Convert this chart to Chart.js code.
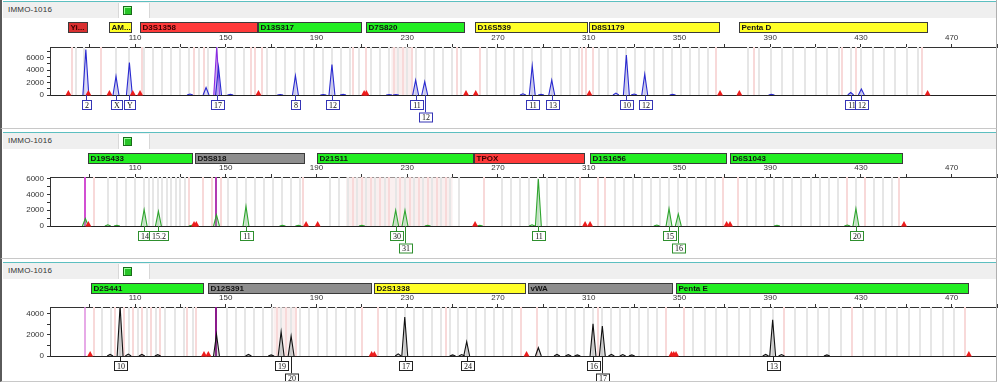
<!DOCTYPE html>
<html><head><meta charset="utf-8">
<script src="https://cdn.jsdelivr.net/npm/chart.js@4.4.1/dist/chart.umd.min.js"></script>
<style>
body{margin:0;background:#fff;width:1000px;height:382px;overflow:hidden;font-family:"Liberation Sans",Arial,sans-serif;position:relative}
.hdr{position:absolute;left:3px;width:994px;height:16px;background:#efefef;border-top:1px solid #5cbfc0;z-index:2}
.hdr span{position:absolute;left:5px;top:3px;font-size:8px;color:#333;letter-spacing:0.2px}
.iconbox{position:absolute;left:115px;top:1px;width:30px;height:15px;background:#fff;border-left:1px solid #d8d8d8;border-right:1px solid #d8d8d8}
.icon{position:absolute;left:4px;top:3px;width:7px;height:7px;background:#27c427;border:1px solid #1a6a1a;box-shadow:inset 1px 1px 0 #9f9}
canvas{position:absolute;left:0;z-index:1}
.frame{position:absolute;left:0;width:997px;border-left:2px solid #5a5a5a;border-right:1px solid #b0b0b0;border-bottom:1px solid #c8c8c8;box-sizing:border-box;z-index:3;pointer-events:none}
</style>
</head><body>
<div class="frame" style="top:0;height:129px"></div>
<div class="frame" style="top:129px;height:130px"></div>
<div class="frame" style="top:259px;height:123px"></div>
<div class="hdr" style="top:1px"><span>IMMO-1016</span><div class="iconbox"><div class="icon"></div></div></div>
<div class="hdr" style="top:132px"><span>IMMO-1016</span><div class="iconbox"><div class="icon"></div></div></div>
<div class="hdr" style="top:262px"><span>IMMO-1016</span><div class="iconbox"><div class="icon"></div></div></div>
<canvas id="c1" width="1000" height="128" style="top:0"></canvas>
<canvas id="c2" width="1000" height="130" style="top:128px"></canvas>
<canvas id="c3" width="1000" height="124" style="top:258px"></canvas>
<script>
// ---------------- DATA ----------------
const xMin = 72.5, xMax = 490;
const xMajorTicks = [110,150,190,230,270,310,350,390,430,470];
const xMinorTicks = [90,130,170,210,250,290,330,370,410,450,490];

// Panel 1 (blue dye)
const markers1 = ['Yi...','AM...','D3S1358','D13S317','D7S820','D16S539','D8S1179','Penta D'];
const markerStart1 = [80.5,98.5,112.2,164.2,211.8,259.9,310.1,376.3];
const markerEnd1 = [89.3,108.7,164.2,210.1,255.5,309.7,367.9,459.6];
const markerKind1 = ['darkred','yellow','red','green','green','yellow','yellow','yellow'];
const peakPos1 = [88.3,101.6,107.5,141.3,146.8,180.7,196.8,233.7,237.7,285.1,293.7,326.6,334.7,425.5,430.2,
                  134.2,152,174,193,201.7,222,225,281,289,322,330,347,390.6];
const peakHeight1 = [7300,3000,5200,1200,4500,3100,4900,2400,2150,4700,2400,6400,3350,400,950,
                     150,100,80,90,120,80,80,200,120,300,150,100,100];
const offPeakPos1 = [146];
const offPeakHeight1 = [7700];
const redMarks1 = [80.6,89.4,98.7,109,112.2,164.4,211,212,255.9,260.2,310.3,367.9,376.4,459.4];
const allelePos1 = [88.3,101.6,107.5,146,180.7,196.8,233.7,237.7,285.1,293.7,326.6,334.7,425.5,430.2];
const alleleName1 = ['2','X','Y','17','8','12','11','12','11','13','10','12','11','12'];
const alleleRow1 = [0,0,0,0,0,0,0,1,0,0,0,0,0,0];
const binsGray1 = [84,87.5,101.5,107.5,114,118,122,126,130,134,138,142,146,150,154,158,
  168,172,176,180.7,184.7,188.7,192.7,196.8,200.8,204.8,208.8,
  214,218,222,226,230,233.7,237.7,241.7,245.7,249.7,253.7,
  265,269,273,277,281,285.1,289.1,293.7,297.7,301.7,305.7,
  314.6,318.6,322.6,326.6,330.6,334.7,338.7,342.7,346.7,350.7,354.7,358.7,362.7,
  380.2,385.2,390.2,395.2,400.2,405.2,410.2,415.2,420.2,425.5,430.2,435.2,440.2,445.2,450.2,455.2];
const binsPink1 = [82,95,113,136,140.5,161,163,166,206,212,224,228,232,252,262,307,309,312,366,382.7,421.7,428,457];
const bands1 = [[223,232]];
const yTicks1 = [0,1000,2000,3000,4000,5000,6000,7000];
const yLabels1 = [0,2000,4000,6000];

// Panel 2 (green dye)
const markers2 = ['D19S433','D5S818','D21S11','TPOX','D1S1656','D6S1043'];
const markerStart2 = [89.3,136.4,190.2,259.4,310.6,372.3];
const markerEnd2 = [135.6,184.9,259.4,308.4,370.9,448.5];
const markerKind2 = ['green','gray','green','red','green','green'];
const peakPos2 = [88.1,98,102,114,120.3,145.9,158.9,175,210,224.9,229,287.8,345.4,349.5,427.8,
                  285,340,393,424,135,182,239,262];
const peakHeight2 = [950,150,100,2080,1860,1400,2490,100,80,1990,2000,5950,2200,1520,2200,
                     150,120,100,120,90,90,80,80];
const offLines2 = [88.1,145.7];
const redMarks2 = [89.4,136,137,185.4,190.5,259.9,308.4,310.6,370.8,372.3,449];
const allelePos2 = [114,120.3,158.9,224.9,229,287.8,345.4,349.5,427.8];
const alleleName2 = ['14','15.2','11','30','31','11','15','16','20'];
const alleleRow2 = [0,0,0,0,1,0,0,1,0];
const binsGray2 = [98,102,106,110,114,116,118,120.3,122,124,126,128,130,132,
  150.9,154.9,158.9,162.9,166.9,170.9,174.9,178.9,182.9,
  196,200,204,208,212,216,220,224.9,229,233,237,241,245,249,253,
  271.8,275.8,279.8,283.8,287.8,291.8,295.8,299.8,303.8,
  321.4,325.4,329.4,333.4,337.4,341.4,345.4,349.5,353.5,357.5,361.5,365.5,
  379.8,383.8,387.8,391.8,395.8,399.8,403.8,407.8,411.8,415.8,419.8,427.8,435.8,439.8,443.8];
const binsPink2 = [92,134,140,144,148,184,206,210,214,218,222,227,231,235,239,243,247,264,306,314,317,369,376,424,432,447];
const bands2 = [[203,250]];
const yTicks2 = [0,1000,2000,3000,4000,5000,6000];
const yLabels2 = [0,2000,4000,6000];

// Panel 3 (black dye)
const markers3 = ['D2S441','D12S391','D2S1338','vWA','Penta E'];
const markerStart3 = [90.5,142.3,215.5,283.4,348.5];
const markerEnd3 = [140.4,214.3,282.4,347.3,477.6];
const markerKind3 = ['green','gray','yellow','gray','green'];
const peakPos3 = [103.4,145.9,174.4,178.8,228.9,256.2,287.8,311.9,316,391.1,
                  99,107,113,120,160,170,226,250,254,296,301,305,320,325,329,388,395,415];
const peakHeight3 = [4700,2030,2280,1880,3660,1340,780,3030,2820,3400,
                     150,180,150,120,150,100,200,100,130,150,120,100,150,130,100,150,130,100];
const offLines3 = [88.1,145.7];
const redMarks3 = [90.2,140.4,142.3,214.3,215.5,282.6,346.5,347.5,348.5,477.6];
const allelePos3 = [103.4,174.4,178.8,228.9,256.2,311.9,316,391.1];
const alleleName3 = ['10','19','20','17','24','16','17','13'];
const alleleRow3 = [0,0,1,0,0,0,1,0];
const binsGray3 = [95.4,99.4,103.4,107.4,111.4,115.4,119.4,123.4,127.4,131.4,135.4,
  150.4,154.4,158.4,162.4,166.4,170.4,174.4,178.8,182.8,186.8,190.8,194.8,198.8,202.8,206.8,
  220.9,224.9,228.9,232.9,236.9,240.9,244.9,248.9,252.2,256.2,260.2,264.2,268.2,272.2,276.2,
  291.9,295.9,299.9,303.9,307.9,311.9,316,320,324,328,332,336,340,
  356.1,361.1,366.1,371.1,376.1,381.1,386.1,391.1,401.1,406.1,411.1,416.1,421.1,431.1,436.1,441.1,446.1,451.1,456.1,461.1,466.1,471.1];
const binsPink3 = [92,101,105,109,113,117,121,133,137,172.4,176.4,180.8,210,217,246.9,280,287,314,344,352,396.1,426.1,476.1];
const bands3 = [[171,181]];
const yTicks3 = [0,1000,2000,3000,4000];
const yLabels3 = [0,2000,4000];

// ---------------- STYLE ----------------
const kindColor = {red:'#ff3a3a',darkred:'#d93030',green:'#22ee22',yellow:'#ffff26',gray:'#8e8e8e'};
const HW = 1.3; // peak half width (bp)

function trace(pos, h){
  const idx = pos.map((p,i)=>i).sort((a,b)=>pos[a]-pos[b]);
  const pts = [{x:xMin,y:0}];
  idx.forEach(i=>{pts.push({x:pos[i]-HW,y:0},{x:pos[i],y:h[i]},{x:pos[i]+HW,y:0});});
  pts.push({x:xMax,y:0});
  return pts;
}
function traceDs(pts, color, fill){
  return {data:pts, borderColor:color, backgroundColor:fill, fill:'origin', borderWidth:1.1,
    pointRadius:0, tension:0,
    segment:{borderColor:c=>(c.p0.parsed.y===0&&c.p1.parsed.y===0)?'rgba(0,0,0,0)':color}};
}

const decor = {
  id:'decor',
  beforeDatasetsDraw(chart){
    const o = chart.options.plugins.decor, ctx = chart.ctx, a = chart.chartArea, x = chart.scales.x;
    ctx.save();
    ctx.beginPath(); ctx.rect(a.left,a.top,a.right-a.left,a.bottom-a.top); ctx.clip();
    o.bands.forEach(([s,e])=>{ctx.fillStyle='rgba(244,226,226,0.55)';
      const l=x.getPixelForValue(s); ctx.fillRect(l,a.top,x.getPixelForValue(e)-l,a.bottom-a.top);});
    ctx.fillStyle='#e6e6e6';
    o.binsGray.forEach(v=>{ctx.fillRect(Math.round(x.getPixelForValue(v))-1,a.top,2,a.bottom-a.top);});
    ctx.fillStyle='#f8d9d9';
    o.binsPink.forEach(v=>{ctx.fillRect(Math.round(x.getPixelForValue(v))-1,a.top,2,a.bottom-a.top);});
    (o.offLines||[]).forEach((v,i)=>{ctx.fillStyle=o.offColors[i];
      const w=o.offWidths[i]; ctx.fillRect(Math.round(x.getPixelForValue(v))-w/2,a.top,w,a.bottom-a.top);});
    ctx.restore();
  },
  afterDatasetsDraw(chart){
    const o = chart.options.plugins.decor, ctx = chart.ctx, a = chart.chartArea, x = chart.scales.x;
    const base = chart.scales.y.getPixelForValue(0);
    ctx.save();
    // red triangles
    ctx.fillStyle='#ee1c1c';
    o.red.forEach(v=>{const px=x.getPixelForValue(v);ctx.beginPath();ctx.moveTo(px-3,base+0.5);ctx.lineTo(px+3,base+0.5);ctx.lineTo(px,base-5);ctx.closePath();ctx.fill();});
    // marker bars
    o.markers.forEach((m,i)=>{
      const l=Math.round(x.getPixelForValue(o.mStart[i]))+0.5, r=Math.round(x.getPixelForValue(o.mEnd[i]))-0.5;
      ctx.fillStyle=kindColor[o.mKind[i]]; ctx.fillRect(l,o.barTop,r-l,o.barH);
      ctx.strokeStyle='#3a3a3a'; ctx.lineWidth=1; ctx.strokeRect(l,o.barTop+0.5,r-l,o.barH-1);
      ctx.save(); ctx.beginPath(); ctx.rect(l,o.barTop,r-l,o.barH); ctx.clip();
      ctx.fillStyle = o.mKind[i]==='red'||o.mKind[i]==='darkred' ? '#3a0000' : '#111';
      ctx.font='bold 8px "Liberation Sans", Arial'; ctx.textBaseline='middle'; ctx.textAlign='left';
      ctx.fillText(m,l+2,o.barTop+o.barH/2+0.5); ctx.restore();
    });
    // allele labels
    ctx.font='8px "Liberation Serif", "DejaVu Serif", serif'; ctx.textAlign='center'; ctx.textBaseline='middle';
    o.aPos.forEach((v,i)=>{
      const px=Math.round(x.getPixelForValue(v))+0.5, t=o.aName[i];
      const w=Math.max(9,Math.ceil(ctx.measureText(t).width)+5), h=10;
      const top=Math.round(base)+5+o.aRow[i]*12.5;
      ctx.strokeStyle=o.aColor; ctx.lineWidth=1;
      ctx.beginPath(); ctx.moveTo(px,base); ctx.lineTo(px,top); ctx.stroke();
      ctx.fillStyle='#fff'; ctx.fillRect(px-w/2,top,w,h);
      ctx.strokeRect(Math.round(px-w/2)+0.5,top+0.5,w,h-1);
      ctx.fillStyle='#111'; ctx.fillText(t,px+0.5,top+h/2+0.5);
    });
    ctx.restore();
  }
};

function makeChart(id, c){
  return new Chart(document.getElementById(id), {
    type:'line',
    data:{datasets:c.datasets},
    options:{
      responsive:false, animation:false, devicePixelRatio:1, events:[],
      layout:{padding:{top:c.padTop,bottom:c.padBottom,left:0,right:3}},
      plugins:{legend:{display:false},tooltip:{enabled:false},decor:c.decor},
      scales:{
        x:{type:'linear',position:'top',min:xMin,max:xMax,
          afterBuildTicks:s=>{s.ticks=[...xMajorTicks,...xMinorTicks].sort((p,q)=>p-q).map(v=>({value:v}));},
          afterFit:s=>{s.height=13;},
          ticks:{autoSkip:false,maxRotation:0,padding:1,color:'#333',font:{size:8,family:'"Liberation Sans", Arial'},
            callback:v=>xMajorTicks.includes(v)?String(v):''},
          grid:{drawOnChartArea:false,drawTicks:true,tickLength:3,color:'#333'},
          border:{color:'#333'}},
        y:{min:0,max:c.yMax,
          afterBuildTicks:s=>{s.ticks=c.yTicks.map(v=>({value:v}));},
          afterFit:s=>{s.width=50;},
          ticks:{autoSkip:false,padding:3,color:'#333',font:{size:8,family:'"Liberation Sans", Arial'},
            callback:v=>c.yLabels.includes(v)?String(v):''},
          grid:{color:g=>(g.tick&&g.tick.value===0)?'#222':'rgba(0,0,0,0)',tickColor:'#333',tickLength:3,drawTicks:true},
          border:{color:'#333'}}
      }
    },
    plugins:[decor]
  });
}

makeChart('c1',{padTop:34,padBottom:33,yMax:7700,yTicks:yTicks1,yLabels:yLabels1,
  datasets:[traceDs(trace(peakPos1,peakHeight1),'#2a2ad0','rgba(150,150,235,0.35)'),
            traceDs(trace(offPeakPos1,offPeakHeight1),'#8a2be2','rgba(170,90,240,0.45)')],
  decor:{markers:markers1,mStart:markerStart1,mEnd:markerEnd1,mKind:markerKind1,barTop:22,barH:11,
    binsGray:binsGray1,binsPink:binsPink1,bands:bands1,red:redMarks1,
    aPos:allelePos1,aName:alleleName1,aRow:alleleRow1,aColor:'#3535b5'}});

makeChart('c2',{padTop:36,padBottom:32,yMax:6200,yTicks:yTicks2,yLabels:yLabels2,
  datasets:[traceDs(trace(peakPos2,peakHeight2),'#2fa52f','rgba(120,210,120,0.3)')],
  decor:{markers:markers2,mStart:markerStart2,mEnd:markerEnd2,mKind:markerKind2,barTop:25,barH:11,
    binsGray:binsGray2,binsPink:binsPink2,bands:bands2,red:redMarks2,
    offLines:offLines2,offColors:['#d24fd2','#b23ab2'],offWidths:[2,2],
    aPos:allelePos2,aName:alleleName2,aRow:alleleRow2,aColor:'#2e8f2e'}});

makeChart('c3',{padTop:36,padBottom:26,yMax:4600,yTicks:yTicks3,yLabels:yLabels3,
  datasets:[traceDs(trace(peakPos3,peakHeight3),'#111','rgba(120,120,120,0.25)')],
  decor:{markers:markers3,mStart:markerStart3,mEnd:markerEnd3,mKind:markerKind3,barTop:25,barH:11,
    binsGray:binsGray3,binsPink:binsPink3,bands:bands3,red:redMarks3,
    offLines:offLines3,offColors:['#e08ee0','#8c1a8c'],offWidths:[1.5,2],
    aPos:allelePos3,aName:alleleName3,aRow:alleleRow3,aColor:'#222'}});
</script>
</body></html>
